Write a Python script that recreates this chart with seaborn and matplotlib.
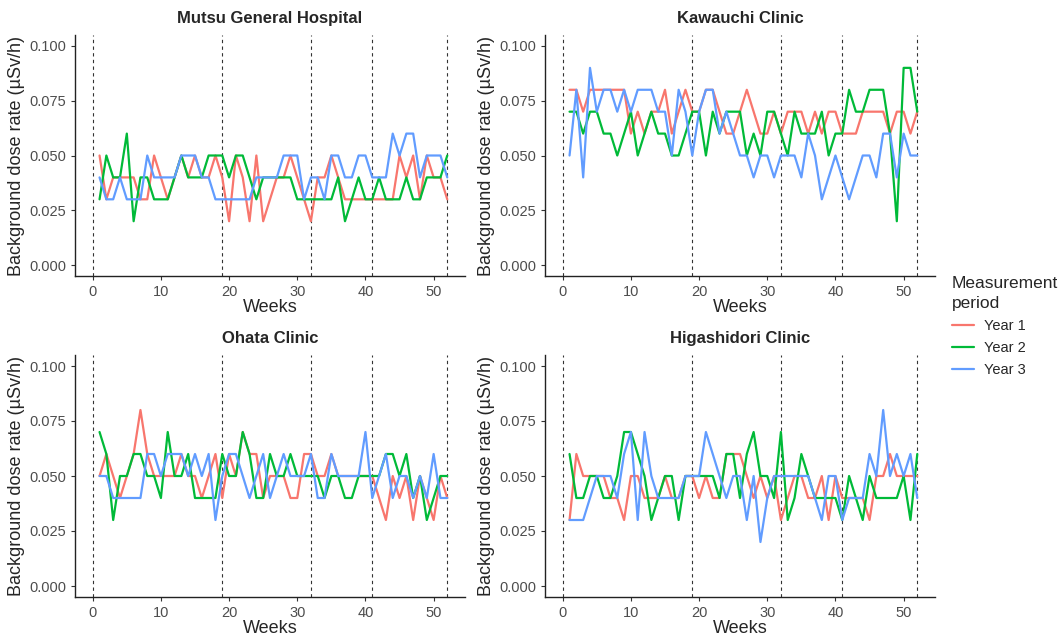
# background dose rate per week, four sites, three measurement years
import numpy as np
import pandas as pd
import matplotlib
matplotlib.use("Agg")
import matplotlib.pyplot as plt
import seaborn as sns
from matplotlib.lines import Line2D

weeks = list(range(1, 53))
sites = ["Mutsu General Hospital", "Kawauchi Clinic", "Ohata Clinic", "Higashidori Clinic"]
periods = ["Year 1", "Year 2", "Year 3"]
period_breaks = [0, 19, 32, 41, 52]

# Mutsu General Hospital
mutsu_y1 = [.05, .03, .04, .04, .04, .04, .03, .03, .05, .04, .03, .04, .05, .04, .05, .04, .04, .05, .04, .02,
            .05, .04, .02, .05, .02, .03, .04, .04, .05, .04, .03, .02, .04, .04, .05, .04, .03, .03, .03, .03,
            .03, .03, .03, .03, .05, .04, .05, .03, .05, .04, .04, .03]
mutsu_y2 = [.03, .05, .04, .04, .06, .02, .04, .04, .03, .03, .03, .04, .05, .04, .04, .04, .05, .05, .05, .04,
            .05, .05, .04, .03, .04, .04, .04, .04, .04, .03, .03, .03, .03, .03, .03, .04, .02, .03, .04, .03,
            .03, .04, .03, .03, .03, .04, .03, .03, .04, .04, .04, .05]
mutsu_y3 = [.04, .03, .03, .04, .03, .03, .03, .05, .04, .04, .04, .04, .05, .05, .05, .04, .04, .03, .03, .03,
            .03, .03, .03, .04, .04, .04, .04, .05, .05, .05, .03, .04, .04, .03, .05, .05, .04, .04, .05, .05,
            .04, .04, .04, .06, .05, .06, .06, .04, .05, .05, .05, .04]

# Kawauchi Clinic
kawa_y1 = [.08, .08, .07, .08, .08, .08, .08, .08, .08, .06, .07, .06, .07, .07, .08, .06, .07, .08, .07, .07,
           .08, .08, .07, .06, .06, .07, .08, .07, .06, .06, .07, .06, .07, .07, .07, .06, .07, .06, .07, .07,
           .06, .06, .06, .07, .07, .07, .07, .06, .07, .07, .06, .07]
kawa_y2 = [.07, .07, .06, .07, .07, .06, .06, .05, .06, .07, .05, .06, .07, .06, .06, .05, .05, .06, .07, .07,
           .05, .07, .06, .07, .07, .07, .05, .06, .05, .07, .07, .06, .05, .07, .06, .06, .06, .07, .05, .06,
           .06, .08, .07, .07, .08, .08, .08, .06, .02, .09, .09, .07]
kawa_y3 = [.05, .08, .04, .09, .07, .08, .08, .07, .08, .07, .08, .08, .08, .07, .07, .05, .08, .07, .05, .07,
           .08, .08, .06, .07, .06, .05, .05, .04, .05, .05, .04, .05, .05, .05, .04, .06, .05, .03, .04, .05,
           .04, .03, .04, .05, .05, .04, .06, .06, .04, .06, .05, .05]

# Ohata Clinic
ohata_y1 = [.05, .06, .05, .04, .05, .06, .08, .06, .05, .05, .05, .05, .06, .05, .05, .04, .05, .06, .04, .06,
            .05, .07, .06, .06, .04, .05, .05, .05, .04, .04, .06, .06, .05, .05, .06, .05, .05, .05, .05, .05,
            .05, .04, .03, .05, .04, .05, .03, .05, .04, .03, .05, .04]
ohata_y2 = [.07, .06, .03, .05, .05, .06, .06, .05, .05, .04, .07, .05, .05, .06, .04, .04, .04, .04, .06, .05,
            .05, .07, .06, .04, .04, .06, .05, .05, .06, .05, .05, .05, .05, .04, .05, .05, .04, .04, .05, .05,
            .05, .05, .06, .06, .05, .06, .04, .05, .03, .04, .05, .05]
ohata_y3 = [.05, .05, .04, .04, .04, .04, .04, .06, .06, .05, .06, .06, .06, .05, .06, .05, .06, .03, .05, .06,
            .06, .05, .04, .05, .06, .04, .05, .06, .05, .05, .05, .06, .04, .04, .06, .05, .05, .05, .05, .07,
            .04, .05, .06, .04, .05, .05, .04, .05, .04, .06, .04, .04]

# Higashidori Clinic
higa_y1 = [.03, .06, .05, .05, .05, .05, .04, .04, .03, .05, .05, .04, .04, .04, .05, .04, .04, .05, .05, .04,
           .05, .04, .04, .06, .06, .06, .05, .04, .05, .04, .05, .03, .04, .05, .05, .04, .04, .05, .03, .05,
           .04, .04, .04, .04, .03, .05, .05, .06, .05, .05, .05, .05]
higa_y2 = [.06, .04, .04, .05, .05, .04, .04, .05, .07, .07, .06, .05, .03, .04, .05, .05, .03, .05, .05, .05,
           .05, .05, .04, .06, .06, .04, .06, .07, .05, .05, .04, .07, .03, .04, .06, .05, .04, .04, .04, .04,
           .03, .05, .04, .03, .05, .04, .04, .04, .04, .05, .03, .06]
higa_y3 = [.03, .03, .03, .04, .05, .05, .05, .04, .06, .07, .03, .07, .05, .04, .04, .04, .04, .05, .05, .05,
           .07, .06, .05, .04, .05, .05, .03, .05, .02, .04, .05, .05, .05, .05, .05, .05, .04, .03, .05, .05,
           .03, .04, .04, .04, .06, .05, .08, .05, .06, .05, .06, .04]

site_values = {
    sites[0]: [mutsu_y1, mutsu_y2, mutsu_y3],
    sites[1]: [kawa_y1, kawa_y2, kawa_y3],
    sites[2]: [ohata_y1, ohata_y2, ohata_y3],
    sites[3]: [higa_y1, higa_y2, higa_y3],
}

rows = []
for site in sites:
    for period, vals in zip(periods, site_values[site]):
        for w, v in zip(weeks, vals):
            rows.append({"site": site, "period": period, "week": w, "dose": v})
df = pd.DataFrame(rows)

colors = ["#F8766D", "#00BA38", "#619CFF"]
palette = dict(zip(periods, colors))

sns.set_style("ticks")
plt.rcParams["font.family"] = ["Liberation Sans", "DejaVu Sans"]

fig = plt.figure(figsize=(10.59, 6.38), dpi=100)
W, H = 1059, 638
boxes = [(75, 35, 465, 276), (545, 35, 935, 276), (75, 355, 465, 597), (545, 355, 935, 597)]

for site, (x0, y0, x1, y1) in zip(sites, boxes):
    ax = fig.add_axes([x0 / W, 1 - y1 / H, (x1 - x0) / W, (y1 - y0) / H])
    sub = df[df["site"] == site]
    sns.lineplot(data=sub, x="week", y="dose", hue="period", palette=palette,
                 linewidth=1.6, legend=False, ax=ax)
    for b in period_breaks:
        ax.axvline(b, color="#333333", linestyle=(0, (3, 3)), linewidth=0.8, zorder=0)
    ax.set_xlim(-2.6, 54.6)
    ax.set_ylim(-0.005, 0.105)
    ax.set_xticks([0, 10, 20, 30, 40, 50])
    ax.set_yticks([0, 0.025, 0.05, 0.075, 0.1])
    ax.set_yticklabels(["0.000", "0.025", "0.050", "0.075", "0.100"])
    ax.tick_params(labelsize=10.5, labelcolor="#4d4d4d", color="#333333", length=3)
    ax.set_xlabel("Weeks", fontsize=13, labelpad=0)
    ax.set_ylabel("Background dose rate (µSv/h)", fontsize=13, labelpad=3)
    ax.set_title(site, fontsize=12, fontweight="bold", pad=9)
    for s in ["top", "right"]:
        ax.spines[s].set_visible(False)
    for s in ["left", "bottom"]:
        ax.spines[s].set_linewidth(1.0)
        ax.spines[s].set_color("#222222")

handles = [Line2D([0], [0], color=c, linewidth=1.6) for c in colors]
leg = fig.legend(handles, periods, title="Measurement\nperiod", loc="upper left",
                 bbox_to_anchor=(952 / W, 1 - 276 / H), frameon=False, fontsize=10.5,
                 title_fontsize=12.5, handlelength=1.5, alignment="left", labelspacing=0.55,
                 borderpad=0, borderaxespad=0, handletextpad=0.7)
leg.get_title().set_linespacing(1.4)

fig.savefig("out.png", dpi=100)
